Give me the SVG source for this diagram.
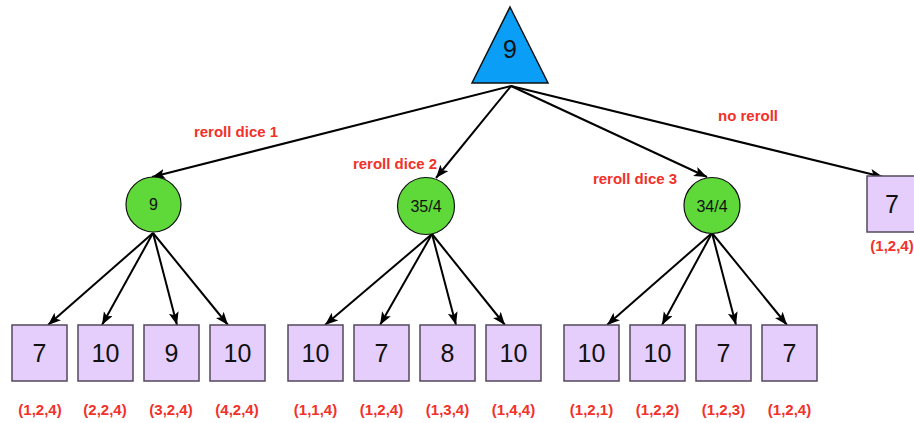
<svg xmlns="http://www.w3.org/2000/svg" width="914" height="423" viewBox="0 0 914 423">
<style>
.box{fill:#e6cefc;stroke:#54485c;stroke-width:1.5}
.chance{fill:#5fd83a;stroke:#111;stroke-width:1.2}
.max{fill:#0a9ef6;stroke:#111;stroke-width:1.5}
.num{font-family:"Liberation Sans",Arial,sans-serif;font-size:25px;fill:#111;text-anchor:middle}
.cnum{font-family:"Liberation Sans",Arial,sans-serif;font-size:16px;fill:#111;text-anchor:middle}
.lbl{font-family:"Liberation Sans",Arial,sans-serif;font-size:15px;font-weight:bold;fill:#f2312a;text-anchor:middle}
.edge{stroke:#000;stroke-width:2;fill:none;marker-end:url(#ah)}
</style>
<defs>
<marker id="ah" markerUnits="userSpaceOnUse" markerWidth="14" markerHeight="12" refX="13" refY="5" orient="auto">
<path d="M0,0 L13,5 L0,10 L3,5 Z" fill="#000"/>
</marker>
</defs>
<rect width="914" height="423" fill="#fff"/>
<g id="connectors">
<path class="edge" d="M511,86 L152,177"/>
<path class="edge" d="M511,86 L436,178"/>
<path class="edge" d="M511,86 L707,177"/>
<path class="edge" d="M511,86 L883,177"/>
<path class="edge" d="M153,233 L48,325"/>
<path class="edge" d="M153,233 L102,325"/>
<path class="edge" d="M153,233 L177,325"/>
<path class="edge" d="M153,233 L228,325"/>
<path class="edge" d="M432,234 L325,325"/>
<path class="edge" d="M432,234 L380,325"/>
<path class="edge" d="M432,234 L456,325"/>
<path class="edge" d="M432,234 L505,325"/>
<path class="edge" d="M712,233 L607,325"/>
<path class="edge" d="M712,233 L662,325"/>
<path class="edge" d="M712,233 L736,325"/>
<path class="edge" d="M712,233 L787,325"/>
</g>
<g id="edge-labels">
<text class="lbl" x="236" y="137">reroll dice 1</text>
<text class="lbl" x="395" y="169">reroll dice 2</text>
<text class="lbl" x="635" y="184">reroll dice 3</text>
<text class="lbl" x="748" y="121">no reroll</text>
</g>
<g id="root"><polygon class="max" points="510,7 548,83 472,83"/><text class="num" x="510" y="58">9</text></g>
<g id="c1"><circle class="chance" cx="153.5" cy="204.5" r="27.5"/><text class="cnum" x="153.5" y="210">9</text></g>
<g id="c2"><circle class="chance" cx="426" cy="206" r="28.5"/><text class="cnum" x="426" y="212">35/4</text></g>
<g id="c3"><circle class="chance" cx="712" cy="205.5" r="28"/><text class="cnum" x="712" y="211.5">34/4</text></g>
<g id="noreroll"><rect class="box" x="867" y="176" width="56" height="56"/><text class="num" x="892" y="213">7</text><text class="lbl" x="892" y="251">(1,2,4)</text></g>
<g id="b1"><rect class="box" x="12" y="325" width="55" height="56"/><text class="num" x="39.5" y="362">7</text><text class="lbl" x="40" y="415">(1,2,4)</text></g>
<g id="b2"><rect class="box" x="78" y="325" width="55" height="56"/><text class="num" x="105.5" y="362">10</text><text class="lbl" x="105" y="415">(2,2,4)</text></g>
<g id="b3"><rect class="box" x="144" y="325" width="55" height="56"/><text class="num" x="171.5" y="362">9</text><text class="lbl" x="171" y="415">(3,2,4)</text></g>
<g id="b4"><rect class="box" x="210" y="325" width="55" height="56"/><text class="num" x="237.5" y="362">10</text><text class="lbl" x="237" y="415">(4,2,4)</text></g>
<g id="b5"><rect class="box" x="288" y="325" width="55" height="56"/><text class="num" x="315.5" y="362">10</text><text class="lbl" x="315.5" y="415">(1,1,4)</text></g>
<g id="b6"><rect class="box" x="354" y="325" width="55" height="56"/><text class="num" x="381.5" y="362">7</text><text class="lbl" x="381.5" y="415">(1,2,4)</text></g>
<g id="b7"><rect class="box" x="420" y="325" width="55" height="56"/><text class="num" x="447.5" y="362">8</text><text class="lbl" x="447.5" y="415">(1,3,4)</text></g>
<g id="b8"><rect class="box" x="486" y="325" width="55" height="56"/><text class="num" x="513.5" y="362">10</text><text class="lbl" x="513.5" y="415">(1,4,4)</text></g>
<g id="b9"><rect class="box" x="564" y="325" width="55" height="56"/><text class="num" x="591.5" y="362">10</text><text class="lbl" x="591.5" y="415">(1,2,1)</text></g>
<g id="b10"><rect class="box" x="630" y="325" width="55" height="56"/><text class="num" x="657.5" y="362">10</text><text class="lbl" x="657.5" y="415">(1,2,2)</text></g>
<g id="b11"><rect class="box" x="696" y="325" width="55" height="56"/><text class="num" x="723.5" y="362">7</text><text class="lbl" x="723.5" y="415">(1,2,3)</text></g>
<g id="b12"><rect class="box" x="762" y="325" width="55" height="56"/><text class="num" x="789.5" y="362">7</text><text class="lbl" x="789.5" y="415">(1,2,4)</text></g>
</svg>
